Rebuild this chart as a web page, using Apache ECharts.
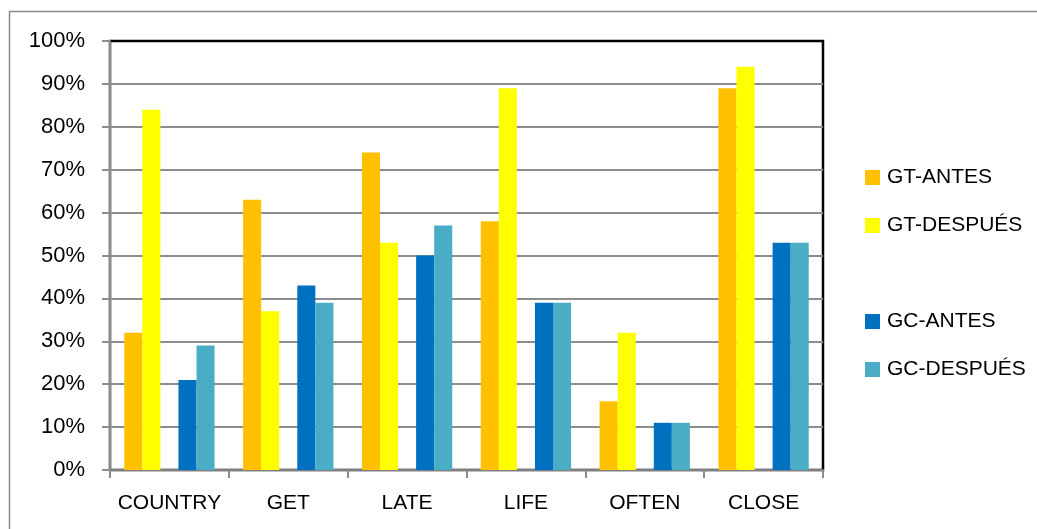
<!DOCTYPE html>
<html>
<head>
<meta charset="utf-8">
<script src="https://cdn.jsdelivr.net/npm/echarts@6/dist/echarts.min.js"></script>
<style>
  html, body { margin: 0; padding: 0; background: #ffffff; }
  #chart { width: 1037px; height: 529px; }
</style>
</head>
<body>
<div id="chart"></div>
<script>
// Words tested, and the share of correct answers (%) per group, before and after
var categories = ['COUNTRY', 'GET', 'LATE', 'LIFE', 'OFTEN', 'CLOSE'];
var gtAntes    = [32, 63, 74, 58, 16, 89];
var gtDespues  = [84, 37, 53, 89, 32, 94];
var gcAntes    = [21, 43, 50, 39, 11, 53];
var gcDespues  = [29, 39, 57, 39, 11, 53];
var yTicks = { min: 0, max: 100, interval: 10 };

var FONT = 'Liberation Sans';

function barSeries(name, data, color) {
  return {
    name: name,
    type: 'bar',
    data: data,
    barGap: '0%',
    barCategoryGap: '24%',
    itemStyle: { color: color },
    emphasis: { disabled: true }
  };
}

var chart = echarts.init(document.getElementById('chart'), null, { renderer: 'canvas' });

chart.setOption({
  animation: false,
  backgroundColor: '#ffffff',
  graphic: [{
    type: 'rect',
    shape: { x: 9.5, y: 11.5, width: 1100, height: 600 },
    style: { fill: 'none', stroke: '#8a8a8a', lineWidth: 1.5 },
    silent: true,
    z: -10
  }],
  grid: {
    left: 110, right: 214, top: 41, bottom: 59,
    show: true,
    borderColor: '#000000',
    borderWidth: 2.5,
    backgroundColor: 'transparent'
  },
  legend: {
    orient: 'vertical',
    left: 865,
    top: 167,
    padding: 0,
    itemWidth: 15,
    itemHeight: 15,
    itemGap: 27,
    icon: 'rect',
    selectedMode: false,
    textStyle: { fontFamily: FONT, fontSize: 21, color: '#000000', padding: [0, 0, 0, 2] },
    data: ['GT-ANTES', 'GT-DESPUÉS', ' ', 'GC-ANTES', 'GC-DESPUÉS']
  },
  xAxis: {
    type: 'category',
    data: categories,
    axisLine: { show: true, lineStyle: { color: '#7f7f7f', width: 2 } },
    axisTick: { show: true, alignWithLabel: false, length: 8, lineStyle: { color: '#8c8c8c', width: 2 } },
    axisLabel: { fontFamily: FONT, fontSize: 21, color: '#000000', margin: 23, interval: 0 },
    splitLine: { show: false }
  },
  yAxis: {
    type: 'value',
    min: yTicks.min,
    max: yTicks.max,
    interval: yTicks.interval,
    axisLine: { show: true, lineStyle: { color: '#8c8c8c', width: 2 } },
    axisTick: { show: true, length: 8, lineStyle: { color: '#8c8c8c', width: 2 } },
    axisLabel: { fontFamily: FONT, fontSize: 22, color: '#000000', margin: 25, formatter: '{value}%' },
    splitLine: { show: true, showMaxLine: false, lineStyle: { color: '#8c8c8c', width: 2 } }
  },
  series: [
    barSeries('GT-ANTES', gtAntes, '#FFC000'),
    barSeries('GT-DESPUÉS', gtDespues, '#FFFF00'),
    barSeries(' ', categories.map(function () { return null; }), 'rgba(0,0,0,0)'),
    barSeries('GC-ANTES', gcAntes, '#0070C0'),
    barSeries('GC-DESPUÉS', gcDespues, '#4BACC6')
  ]
});
</script>
</body>
</html>
